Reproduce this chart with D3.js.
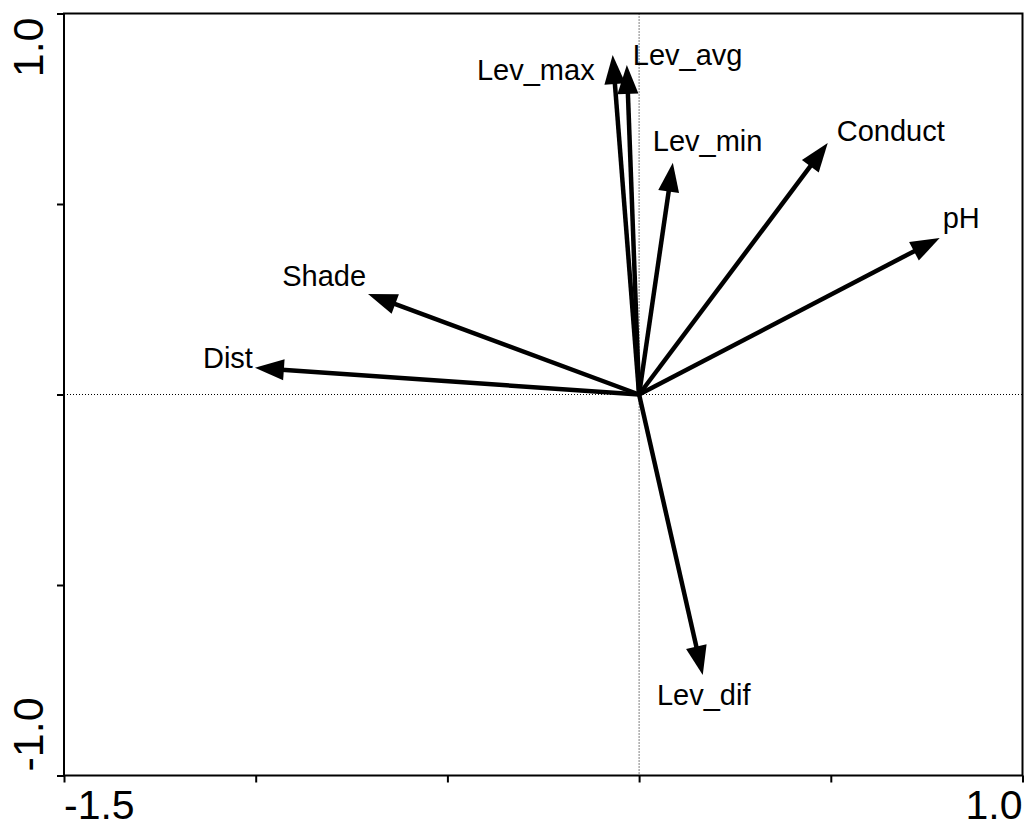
<!DOCTYPE html>
<html>
<head>
<meta charset="utf-8">
<script src="https://cdn.jsdelivr.net/npm/d3@7"></script>
<style>
  html, body { margin: 0; padding: 0; background: #fff; }
  svg { display: block; }
  text { font-family: "Liberation Sans", Arial, sans-serif; fill: #000; }
</style>
</head>
<body>
<svg id="chart" width="1027" height="829"></svg>
<script>
// ---- data ----
const variables = ["Lev_max", "Lev_avg", "Lev_min", "Conduct", "pH", "Shade", "Dist", "Lev_dif"];
const axis1 = [-0.069, -0.032, 0.088, 0.492, 0.784, -0.707, -1.002, 0.166];
const axis2 = [0.891, 0.865, 0.608, 0.660, 0.411, 0.264, 0.070, -0.736];
const xTicks = [-1.5, -1.0, -0.5, 0, 0.5, 1.0];
const yTicks = [-1.0, -0.5, 0, 0.5, 1.0];
const xTickLabels = ["-1.5", "1.0"];   // shown at the ends only
const yTickLabels = ["-1.0", "1.0"];

// ---- label layout (pixel offsets from arrow tip) ----
const labelAnchor = ["end", "start", "start", "start", "start", "end", "end", "middle"];
const labelDx = [-18, 6, -20, 9, 3, -2, -2, 1];
const labelDy = [25, 0, -12, -2, -10, -8, 0, 30];

const svg = d3.select("#chart");
const L = 64, R = 1022.5, T = 13.5, B = 775.5;

const x = d3.scaleLinear().domain([-1.5, 1.0]).range([L, R]);
const y = d3.scaleLinear().domain([-1.0, 1.0]).range([B, T]);

// dotted zero lines
svg.append("line")
  .attr("x1", L).attr("x2", R).attr("y1", y(0)).attr("y2", y(0))
  .attr("stroke", "#000").attr("stroke-width", 1).attr("stroke-dasharray", "1,2");
svg.append("line")
  .attr("x1", x(0)).attr("x2", x(0)).attr("y1", T).attr("y2", B)
  .attr("stroke", "#000").attr("stroke-width", 1).attr("stroke-dasharray", "1,2");

// axes (ticks only)
const xAxis = d3.axisBottom(x).tickValues(xTicks).tickSize(7).tickFormat("");
const yAxis = d3.axisLeft(y).tickValues(yTicks).tickSize(7).tickFormat("");
const gx = svg.append("g").attr("transform", `translate(0,${B})`).call(xAxis);
const gy = svg.append("g").attr("transform", `translate(${L},0)`).call(yAxis);
[gx, gy].forEach(g => {
  g.select(".domain").remove();
  g.selectAll(".tick line").attr("stroke", "#000").attr("stroke-width", 2);
});

// frame
svg.append("rect")
  .attr("x", L).attr("y", T).attr("width", R - L).attr("height", B - T)
  .attr("fill", "none").attr("stroke", "#000").attr("stroke-width", 2);

// tick labels
svg.append("text").attr("x", x(-1.5)).attr("y", 819)
  .attr("text-anchor", "start").attr("font-size", 41).text(xTickLabels[0]);
svg.append("text").attr("x", x(1.0)).attr("y", 819)
  .attr("text-anchor", "end").attr("font-size", 41).text(xTickLabels[1]);
svg.append("text")
  .attr("transform", `translate(43,${y(-1.0) - 4}) rotate(-90)`)
  .attr("text-anchor", "start").attr("font-size", 43).text(yTickLabels[0]);
svg.append("text")
  .attr("transform", `translate(43,${y(1.0) + 4}) rotate(-90)`)
  .attr("text-anchor", "end").attr("font-size", 43).text(yTickLabels[1]);

// arrows
const headLen = 29, headHalf = 10.5;
const ox = x(0), oy = y(0);
const data = variables.map((v, i) => ({ name: v, tx: x(axis1[i]), ty: y(axis2[i]), i }));

const g = svg.append("g");
data.forEach(d => {
  const dx = d.tx - ox, dy = d.ty - oy;
  const len = Math.hypot(dx, dy);
  const ux = dx / len, uy = dy / len;
  const bx = d.tx - ux * headLen, by = d.ty - uy * headLen;
  g.append("line")
    .attr("x1", ox).attr("y1", oy).attr("x2", bx + ux * 2).attr("y2", by + uy * 2)
    .attr("stroke", "#000").attr("stroke-width", 4.5);
  const px = -uy, py = ux;
  g.append("path")
    .attr("d", `M${d.tx},${d.ty} L${bx + px * headHalf},${by + py * headHalf} L${bx - px * headHalf},${by - py * headHalf} Z`)
    .attr("fill", "#000");
  g.append("text")
    .attr("x", d.tx + labelDx[d.i]).attr("y", d.ty + labelDy[d.i])
    .attr("text-anchor", labelAnchor[d.i])
    .attr("font-size", 29)
    .text(d.name);
});
</script>
</body>
</html>
